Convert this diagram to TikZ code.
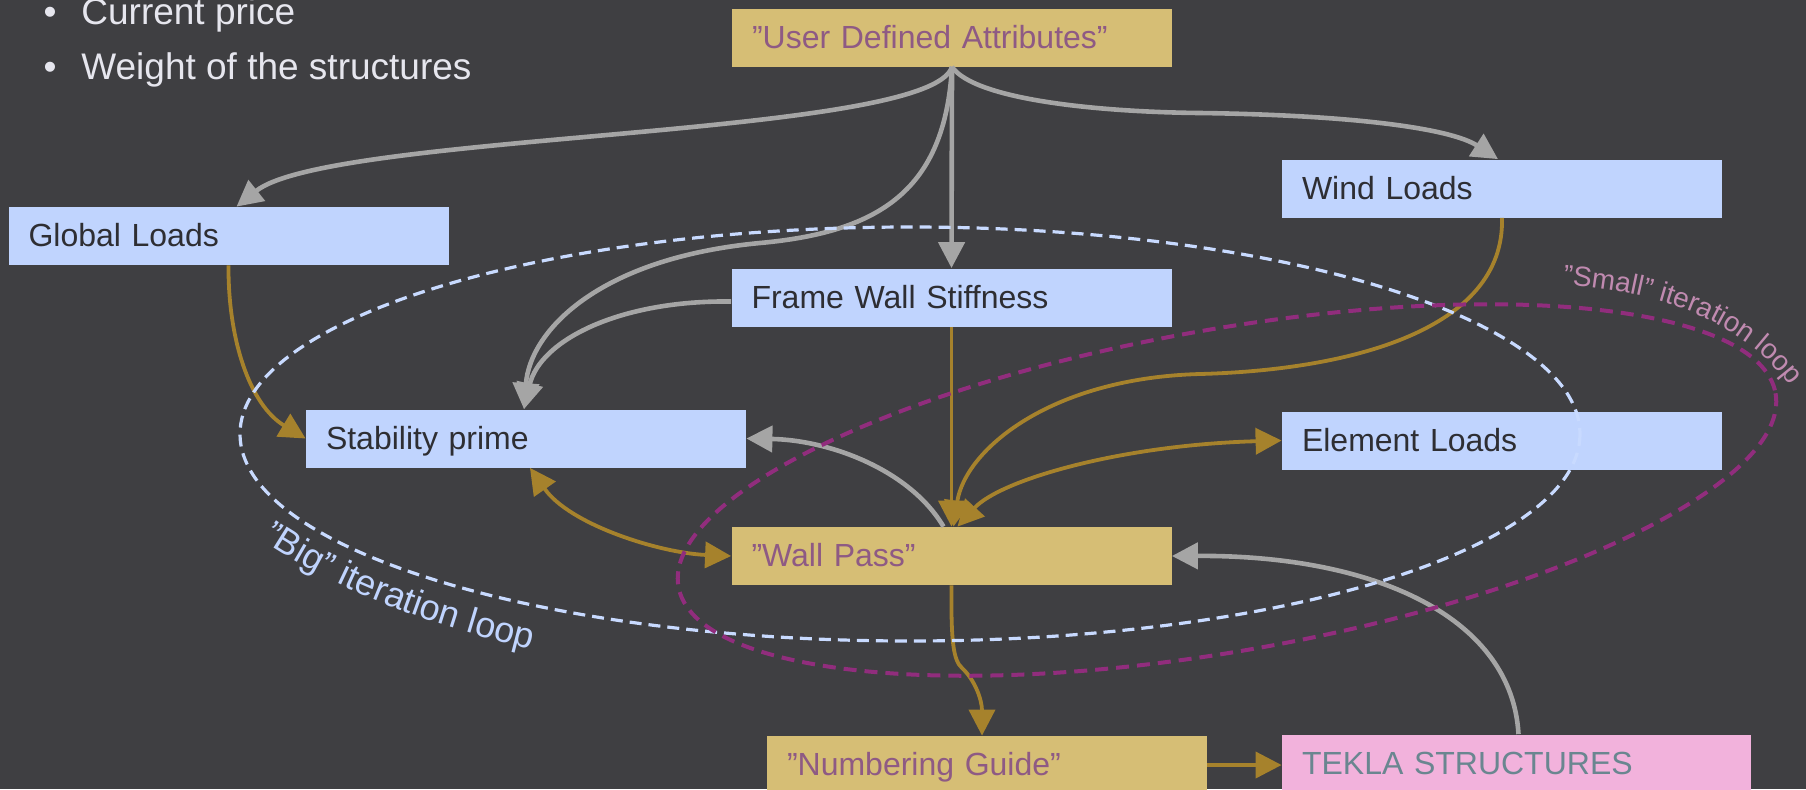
\documentclass[tikz,border=0pt]{standalone}
\usepackage{fontspec}
\setmainfont{Liberation Sans}
\usetikzlibrary{arrows.meta,decorations.text}

\definecolor{bgc}{HTML}{3F3F42}
\definecolor{goldbox}{HTML}{D6BE75}
\definecolor{bluebox}{HTML}{C0D4FE}
\definecolor{pinkbox}{HTML}{F2B2DC}
\definecolor{goldline}{HTML}{A6822C}
\definecolor{grayline}{HTML}{A5A5A5}
\definecolor{purpletext}{HTML}{8E5A84}
\definecolor{darktext}{HTML}{2E2E33}
\definecolor{teklatext}{HTML}{6A8690}
\definecolor{bigloop}{HTML}{C8DAFF}
\definecolor{biglabel}{HTML}{C0D4FE}
\definecolor{smallloop}{HTML}{912D7D}
\definecolor{smalllabel}{HTML}{C08AB0}
\definecolor{bullettext}{HTML}{E6E6EE}

\newcommand{\boxfont}{\fontsize{16}{19}\selectfont}
\newcommand{\bulletfont}{\fontsize{18.5}{22}\selectfont}
\newcommand{\biglabelfont}{\fontsize{18}{21}\selectfont}
\newcommand{\smalllabelfont}{\fontsize{14}{17}\selectfont}

\begin{document}
\begin{tikzpicture}[x=0.5pt,y=-0.5pt,
  box/.style={rectangle, inner xsep=10pt, inner ysep=0pt, minimum height=29pt,
    text width=200pt, text height=11.5pt, text depth=1pt, align=left, font=\boxfont},
  bluenode/.style={box, fill=bluebox, text=darktext},
  goldnode/.style={box, fill=goldbox, text=purpletext},
  pinknode/.style={box, fill=pinkbox, text=teklatext, text width=214.5pt},
  tip/.style={-{Triangle[length=13pt,width=13pt]}},
  bothtips/.style={{Triangle[length=13pt,width=13pt]}-{Triangle[length=13pt,width=13pt]}},
  grayflow/.style={draw=grayline, line width=2.3pt, tip},
  goldflow/.style={draw=goldline, line width=1.9pt, tip},
  goldboth/.style={draw=goldline, line width=1.9pt, bothtips},
  bigloopline/.style={draw=bigloop, line width=1.6pt, dash pattern=on 6pt off 3.5pt},
  smallloopline/.style={draw=smallloop, line width=2pt, dash pattern=on 6.5pt off 4pt},
  bullettxt/.style={text=bullettext, font=\bulletfont, inner sep=0pt}
]
\clip (0,0) rectangle (1806,789);
\fill[bgc] (0,0) rectangle (1806,789);

% bullet list
\node[bullettxt, anchor=base] (dot1) at (50,24) {•};
\node[bullettxt, anchor=base west] (item1) at (81,24) {Current price};
\node[bullettxt, anchor=base] (dot2) at (50,79) {•};
\node[bullettxt, anchor=base west] (item2) at (81,79) {Weight of the structures};

% boxes
\node[goldnode] (uda) at (952,37.5) {”User Defined Attributes”};
\node[bluenode] (gl) at (228.5,236) {Global Loads};
\node[bluenode] (wind) at (1502,188.5) {Wind Loads};
\node[bluenode] (fws) at (951.5,297.5) {Frame Wall Stiffness};
\node[bluenode] (sp) at (526,438.5) {Stability prime};
\node[bluenode] (el) at (1502,440.5) {Element Loads};
\node[goldnode] (wp) at (951.5,556) {”Wall Pass”};
\node[goldnode] (ng) at (987,765) {”Numbering Guide”};
\node[pinknode] (tekla) at (1516.5,763.5) {TEKLA STRUCTURES};

% grey connectors
\draw[grayflow] (uda.south) .. controls (930,138) and (330,132) .. ([xshift=4pt]gl.north);
\draw[grayflow] (uda.south) .. controls (975,100) and (1100,112) .. (1200,113)
  .. controls (1350,115) and (1450,128) .. ([xshift=-2pt]wind.north);
\draw[grayflow] (uda.south) -- (fws.north);
\draw[grayflow] (uda.south) .. controls (945,190) and (880,232) .. (760,243)
  .. controls (600,258) and (530,330) .. ([xshift=-1pt]sp.north);
\draw[grayflow] ([yshift=-2pt]fws.west) .. controls (620,300) and (540,340) .. ([xshift=-1pt]sp.north);
\draw[grayflow] ([xshift=-4pt]wp.north) .. controls (910,470) and (830,440) .. (sp.east);
\draw[grayflow] ([xshift=1pt]tekla.north) .. controls (1512,620) and (1380,555) .. (wp.east);

% gold connectors
\draw[goldflow] (gl.south) .. controls (228,340) and (250,405) .. (sp.west);
\draw[goldflow] (fws.south) -- (wp.north);
\draw[goldflow] (wind.south) .. controls (1505,330) and (1350,370) .. (1200,374)
  .. controls (1050,378) and (965,450) .. ([xshift=1pt]wp.north);
\draw[goldboth] ([xshift=3pt]wp.north) .. controls (1000,480) and (1120,445) .. (el.west);
\draw[goldboth] ([xshift=2pt]sp.south) .. controls (570,525) and (660,553) .. (wp.west);
\draw[goldflow] (wp.south) .. controls (951,640) and (953,660) .. (962,668)
  .. controls (975,680) and (982,700) .. ([xshift=-2.5pt]ng.north);
\draw[goldflow] (ng.east) -- (ng.east -| tekla.west);

% iteration loops
\draw[bigloopline] (910,434) ellipse [x radius=670, y radius=207];
\draw[smallloopline, rotate around={10:(1227,490)}] (1227,490) ellipse [x radius=557, y radius=161];

\path[decorate, decoration={text along path, text align=left,
  text={|\biglabelfont\color{biglabel}|”Big” iteration loop}}]
  (262,540) .. controls (330,587) and (420,624) .. (565,658);
\path[decorate, decoration={text along path, text align=left,
  text={|\smalllabelfont\color{smalllabel}|”Small” iteration loop}}]
  (1563,285) .. controls (1665,292) and (1750,322) .. (1800,400);
\end{tikzpicture}
\end{document}
